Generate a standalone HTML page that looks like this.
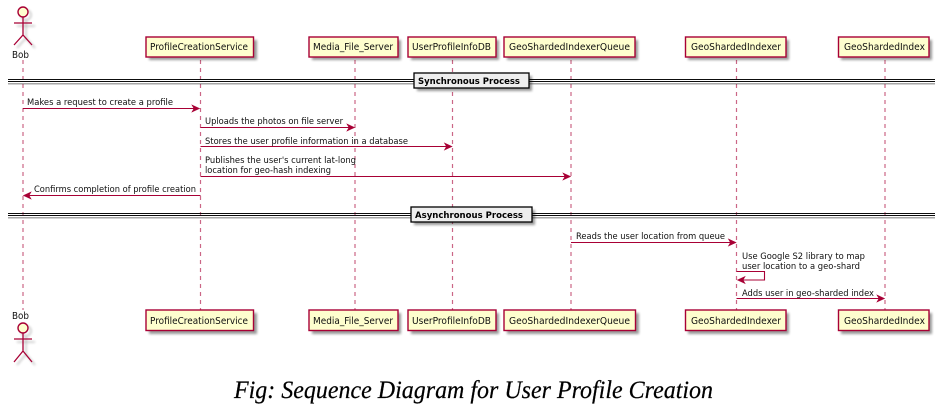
<!DOCTYPE html>
<html>
<head>
<meta charset="utf-8">
<style>
html,body{margin:0;padding:0;background:#fff;width:950px;height:420px;overflow:hidden}
svg{display:block}
text{font-family:"DejaVu Sans","Liberation Sans",sans-serif;font-size:9px;fill:#111}
.p{font-size:9.5px}
.b{font-weight:bold;font-size:9px;fill:#000}
.box{fill:#FEFECE;stroke:#A80036;stroke-width:1.4}
.sh{fill:#000;opacity:.4;filter:url(#s)}
.life{stroke:#A80036;stroke-width:1.2;stroke-dasharray:4 4;opacity:.6;fill:none}
.msg{stroke:#A80036;stroke-width:1.1;fill:none}
.ah{fill:#A80036;stroke:#A80036;stroke-width:.6}
.sep{fill:#EEEEEE;stroke:#000;stroke-width:1.3}
.dl{stroke:#111;stroke-width:1.1}
.fig{stroke:#A80036;stroke-width:1.3;fill:none}
.head{fill:#FEFECE;stroke:#A80036;stroke-width:1.4}
.cap{font-family:"Liberation Serif",serif;font-style:italic;font-size:25px;fill:#000;stroke:#000;stroke-width:.2}
</style>
</head>
<body>
<svg width="950" height="420" viewBox="0 0 950 420" xmlns="http://www.w3.org/2000/svg">
<defs>
<filter id="s" x="-20%" y="-40%" width="140%" height="180%"><feGaussianBlur stdDeviation="1.2"/></filter>
<filter id="soft" x="0" y="0" width="950" height="420" filterUnits="userSpaceOnUse"><feGaussianBlur stdDeviation="0.35"/></filter>
</defs>

<g filter="url(#soft)">
<!-- lifelines -->
<line class="life" x1="23" y1="60" x2="23" y2="310"/>
<line class="life" x1="200.5" y1="60" x2="200.5" y2="310"/>
<line class="life" x1="355" y1="60" x2="355" y2="310"/>
<line class="life" x1="452.5" y1="60" x2="452.5" y2="310"/>
<line class="life" x1="571" y1="60" x2="571" y2="310"/>
<line class="life" x1="736.5" y1="60" x2="736.5" y2="310"/>
<line class="life" x1="885" y1="60" x2="885" y2="310"/>

<!-- actor top -->
<g opacity=".35" filter="url(#s)" transform="translate(3,3)" fill="none" stroke="#000">
<circle cx="23" cy="12" r="5"/><path d="M23 17V35M14 23H32M14 45L23 35L32 45"/>
</g>
<circle class="head" cx="23" cy="12" r="5"/>
<path class="fig" d="M23 17V35M14 23H32M14 45L23 35L32 45"/>
<text class="p" x="12" y="58" textLength="17" lengthAdjust="spacingAndGlyphs">Bob</text>

<!-- actor bottom -->
<g opacity=".35" filter="url(#s)" transform="translate(3,3)" fill="none" stroke="#000">
<circle cx="23" cy="328" r="5"/><path d="M23 333V351M14 339H32M14 362L23 351L32 362"/>
</g>
<circle class="head" cx="23" cy="328" r="5"/>
<path class="fig" d="M23 333V351M14 339H32M14 362L23 351L32 362"/>
<text class="p" x="12" y="319" textLength="17" lengthAdjust="spacingAndGlyphs">Bob</text>

<!-- top boxes -->
<rect class="sh" x="149" y="40" width="108" height="20"/>
<rect class="sh" x="312" y="40" width="89" height="20"/>
<rect class="sh" x="411" y="40" width="88" height="20"/>
<rect class="sh" x="507" y="40" width="131" height="20"/>
<rect class="sh" x="688" y="40" width="101" height="20"/>
<rect class="sh" x="841" y="40" width="91" height="20"/>
<rect class="box" x="146" y="37" width="107.500" height="20"/>
<rect class="box" x="309" y="37" width="89" height="20"/>
<rect class="box" x="408" y="37" width="88" height="20"/>
<rect class="box" x="504" y="37" width="131" height="20"/>
<rect class="box" x="685.500" y="37" width="100.500" height="20"/>
<rect class="box" x="838.500" y="37" width="90.500" height="20"/>
<text class="p" x="150" y="50" textLength="98" lengthAdjust="spacingAndGlyphs">ProfileCreationService</text>
<text class="p" x="313" y="50" textLength="80" lengthAdjust="spacingAndGlyphs">Media_File_Server</text>
<text class="p" x="412" y="50" textLength="79" lengthAdjust="spacingAndGlyphs">UserProfileInfoDB</text>
<text class="p" x="509" y="50" textLength="121" lengthAdjust="spacingAndGlyphs">GeoShardedIndexerQueue</text>
<text class="p" x="691" y="50" textLength="90" lengthAdjust="spacingAndGlyphs">GeoShardedIndexer</text>
<text class="p" x="844" y="50" textLength="81" lengthAdjust="spacingAndGlyphs">GeoShardedIndex</text>

<!-- bottom boxes -->
<rect class="sh" x="149" y="313" width="108" height="21"/>
<rect class="sh" x="312" y="313" width="89" height="21"/>
<rect class="sh" x="411" y="313" width="88" height="21"/>
<rect class="sh" x="507" y="313" width="132" height="21"/>
<rect class="sh" x="688" y="313" width="101" height="21"/>
<rect class="sh" x="841" y="313" width="91" height="21"/>
<rect class="box" x="146" y="310" width="107.500" height="20.500"/>
<rect class="box" x="309" y="310" width="89" height="20.500"/>
<rect class="box" x="408" y="310" width="88" height="20.500"/>
<rect class="box" x="504" y="310" width="131.500" height="20.500"/>
<rect class="box" x="685.500" y="310" width="100.500" height="20.500"/>
<rect class="box" x="838.500" y="310" width="90.500" height="20.500"/>
<text class="p" x="150" y="324" textLength="98" lengthAdjust="spacingAndGlyphs">ProfileCreationService</text>
<text class="p" x="313" y="324" textLength="80" lengthAdjust="spacingAndGlyphs">Media_File_Server</text>
<text class="p" x="412" y="324" textLength="79" lengthAdjust="spacingAndGlyphs">UserProfileInfoDB</text>
<text class="p" x="509" y="324" textLength="121" lengthAdjust="spacingAndGlyphs">GeoShardedIndexerQueue</text>
<text class="p" x="691" y="324" textLength="90" lengthAdjust="spacingAndGlyphs">GeoShardedIndexer</text>
<text class="p" x="844" y="324" textLength="81" lengthAdjust="spacingAndGlyphs">GeoShardedIndex</text>

<!-- divider 1 -->
<rect x="8" y="83" width="927" height="1.500" fill="#000" opacity=".35"/>
<line class="dl" x1="8" y1="79.500" x2="935" y2="79.500"/>
<line class="dl" x1="8" y1="81.500" x2="935" y2="81.500"/>
<rect class="sh" x="417" y="76" width="115" height="15"/>
<rect class="sep" x="414" y="73" width="115" height="15"/>
<text class="b" x="418" y="84" textLength="102" lengthAdjust="spacingAndGlyphs">Synchronous Process</text>

<!-- divider 2 -->
<rect x="8" y="217" width="927" height="1.500" fill="#000" opacity=".35"/>
<line class="dl" x1="8" y1="213.500" x2="935" y2="213.500"/>
<line class="dl" x1="8" y1="215.500" x2="935" y2="215.500"/>
<rect class="sh" x="414" y="210" width="121" height="15"/>
<rect class="sep" x="411" y="207" width="121" height="15"/>
<text class="b" x="415" y="218" textLength="108" lengthAdjust="spacingAndGlyphs">Asynchronous Process</text>

<!-- messages -->
<line class="msg" x1="23" y1="108.500" x2="198" y2="108.500"/>
<path class="ah" d="M199.500 108.500L192 105L194 108.500L192 112Z"/>
<text x="27" y="105" textLength="146" lengthAdjust="spacingAndGlyphs">Makes a request to create a profile</text>

<line class="msg" x1="200.500" y1="127.500" x2="353" y2="127.500"/>
<path class="ah" d="M354.500 127.500L347 124L349 127.500L347 131Z"/>
<text x="205" y="124" textLength="138" lengthAdjust="spacingAndGlyphs">Uploads the photos on file server</text>

<line class="msg" x1="200.500" y1="146.500" x2="450" y2="146.500"/>
<path class="ah" d="M452 146.500L444.500 143L446.500 146.500L444.500 150Z"/>
<text x="205" y="144" textLength="203" lengthAdjust="spacingAndGlyphs">Stores the user profile information in a database</text>

<line class="msg" x1="200.500" y1="176.500" x2="569" y2="176.500"/>
<path class="ah" d="M570.500 176.500L563 173L565 176.500L563 180Z"/>
<text x="205" y="163" textLength="151" lengthAdjust="spacingAndGlyphs">Publishes the user's current lat-long</text>
<text x="205" y="173" textLength="126" lengthAdjust="spacingAndGlyphs">location for geo-hash indexing</text>

<line class="msg" x1="25" y1="195.500" x2="200.500" y2="195.500"/>
<path class="ah" d="M23.500 195.500L31 192L29 195.500L31 199Z"/>
<text x="34" y="192" textLength="162" lengthAdjust="spacingAndGlyphs">Confirms completion of profile creation</text>

<line class="msg" x1="571" y1="242.500" x2="734" y2="242.500"/>
<path class="ah" d="M736 242.500L728.500 239L730.500 242.500L728.500 246Z"/>
<text x="576" y="239" textLength="149" lengthAdjust="spacingAndGlyphs">Reads the user location from queue</text>

<path class="msg" d="M736.500 271.500H764.500V280H739"/>
<path class="ah" d="M737.500 280L745 276.500L743 280L745 283.500Z"/>
<text x="742" y="259" textLength="123" lengthAdjust="spacingAndGlyphs">Use Google S2 library to map</text>
<text x="742" y="269" textLength="118" lengthAdjust="spacingAndGlyphs">user location to a geo-shard</text>

<line class="msg" x1="736.500" y1="298.500" x2="883" y2="298.500"/>
<path class="ah" d="M884.500 298.500L877 295L879 298.500L877 302Z"/>
<text x="742" y="296" textLength="132" lengthAdjust="spacingAndGlyphs">Adds user in geo-sharded index</text>
</g>

<!-- caption -->
<text class="cap" x="234" y="398" textLength="479" lengthAdjust="spacingAndGlyphs">Fig: Sequence Diagram for User Profile Creation</text>
</svg>
</body>
</html>
